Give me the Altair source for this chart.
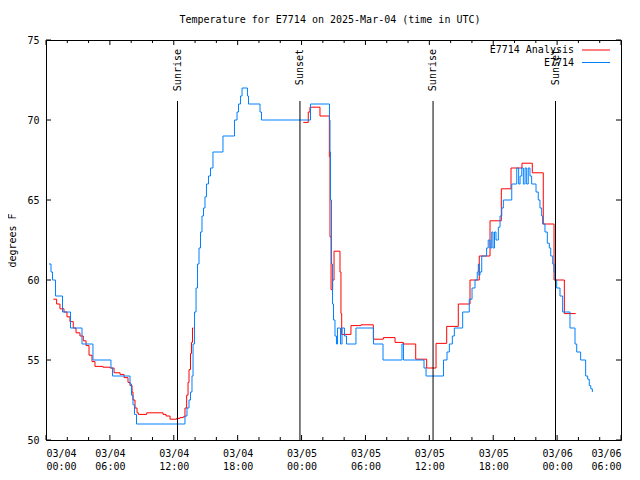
import altair as alt
import pandas as pd

FONT = "DejaVu Sans Mono"

# Observations (E7714), hours after 2025-03-04 00:00 UTC, step values in deg F
obs_hours = [0.28, 0.47, 0.61, 0.89, 1.55, 2.30, 3.38, 4.41, 6.10, 6.25,
             7.89, 8.03, 8.17, 8.31, 8.50, 13.05, 13.24, 13.43, 13.57, 13.71,
             13.81, 13.95, 14.09, 14.23, 14.37, 14.51, 14.65, 14.79, 14.93, 15.07,
             15.26, 15.45, 15.68, 16.62, 17.70, 17.94, 18.08, 18.27, 18.41, 18.92,
             19.02, 20.10, 20.24, 24.84, 26.62, 26.67, 26.72, 26.81, 26.91, 27.00,
             27.14, 27.28, 27.38, 27.52, 27.66, 27.80, 28.03, 28.22, 29.11, 30.76,
             31.65, 33.43, 33.57, 35.50, 35.69, 37.33, 37.66, 37.88, 38.16, 38.35,
             39.13, 39.75, 40.01, 40.29, 40.50, 40.60, 40.66, 40.76, 40.92, 41.13,
             41.38, 41.53, 41.70, 41.86, 41.98, 42.12, 42.26, 42.48, 42.64, 42.80,
             42.95, 43.74, 44.21, 44.39, 44.52, 44.68, 44.83, 44.99, 45.14, 45.29,
             45.45, 45.61, 46.02, 46.23, 46.39, 46.55, 46.64, 46.86, 47.08, 47.27,
             47.40, 47.59, 47.71, 47.80, 47.96, 48.27, 48.52, 49.21, 49.68, 49.84,
             50.21, 50.68, 50.87, 51.02, 51.16, 51.31]
obs_temps = [61, 60.5, 60, 59, 58, 57, 56, 55, 54.5, 54,
             53.5, 52.8, 52.2, 51.6, 51, 51.5, 52, 52.5, 53, 54,
             56, 58, 59.5, 61, 62, 63, 64, 64.5, 65.2, 66,
             66.5, 67, 68, 69, 70, 70.5, 71, 71.5, 72, 71.5,
             71, 70.5, 70, 71, 70, 68, 65, 61, 58.5, 57.5,
             56.5, 56, 57, 57, 56, 57, 56.5, 56, 57, 56,
             55, 56, 55, 54.5, 54, 55, 55.5, 56, 56.5, 57,
             58, 58.8, 59.5, 60, 60.5, 61, 60.3, 60.5, 61.5, 61.5,
             62, 62.5, 62, 63, 62, 63, 62.5, 63.3, 64, 64.5,
             65, 66, 67, 66, 66.5, 67, 66, 67, 66, 67,
             66.5, 66, 65.5, 65, 64.5, 64, 63.5, 63, 62.3, 62,
             61.5, 61, 60.5, 60, 59.5, 59, 58, 57, 56, 55.5,
             55, 54, 53.8, 53.4, 53.2, 53]

# Analysis (E7714 Analysis), two segments
ana1_hours = [0.69, 1.00, 1.31, 1.69, 1.97, 2.25, 2.56, 2.82, 3.19, 3.50,
              3.76, 4.04, 4.32, 4.60, 5.35, 6.01, 6.39, 6.95, 7.33, 7.70,
              7.89, 8.08, 8.17, 8.36, 8.55, 8.67, 9.46, 10.99, 11.27, 11.65,
              12.27, 12.58, 12.89, 13.05, 13.21, 13.34, 13.43, 13.57, 13.66, 13.76,
              13.85]
ana1_temps = [58.8, 58.5, 58.2, 58.0, 57.7, 57.4, 57.0, 56.7, 56.5, 56.2,
              55.9, 55.3, 54.9, 54.6, 54.55, 54.5, 54.2, 54.1, 53.9, 53.6,
              53.4, 53.0, 52.5, 52.0, 51.7, 51.6, 51.7, 51.6, 51.5, 51.3,
              51.35, 51.4, 51.45, 52.0, 52.8, 53.6, 54.4, 55.4, 56.1, 57.0,
              57.0]
ana2_hours = [24.16, 24.63, 24.79, 25.73, 26.61, 26.67, 26.77, 26.92, 27.05, 27.61,
              27.70, 27.77, 28.64, 29.58, 30.74, 31.68, 32.78, 33.56, 34.72, 35.75,
              36.63, 37.63, 38.72, 39.82, 40.69, 41.70, 42.76, 43.67, 44.70, 45.67,
              46.70, 47.71, 48.68, 49.75]
ana2_temps = [69.85, 70.5, 70.8, 70.25, 67.7, 62.7, 59.4, 60.0, 61.8, 60.5,
              57.9, 56.6, 57.15, 57.2, 56.3, 56.4, 56.1, 56.0, 55.05, 54.5,
              56.04, 57.1, 58.5, 60.0, 61.5, 63.7, 65.7, 67.0, 67.3, 66.7,
              63.5, 60.0, 57.9, 57.9]

sun_hours = [12.35, 23.85, 36.35, 47.85]
sun_labels = ["Sunrise", "Sunset", "Sunrise", "Sunset"]

x_major = list(range(0, 55, 6))
x_minor = [h for h in range(0, 55, 2) if h % 6]
y_major = [50, 55, 60, 65, 70, 75]

series_names = ["E7714 Analysis", "E7714"]
series_colors = ["#ff0000", "#0080ff"]
title_text = "Temperature for E7714 on 2025-Mar-04 (time in UTC)"

W, H = 575, 400

obs = pd.DataFrame({"hour": obs_hours, "temp": obs_temps})
ana = pd.concat([
    pd.DataFrame({"hour": ana1_hours, "temp": ana1_temps, "seg": "a"}),
    pd.DataFrame({"hour": ana2_hours, "temp": ana2_temps, "seg": "b"}),
])
sun = pd.DataFrame({"hour": sun_hours, "label": sun_labels})
xmaj = pd.DataFrame({"hour": x_major})
xmin = pd.DataFrame({"hour": x_minor})
ymaj = pd.DataFrame({"temp": y_major})

xs = alt.Scale(domain=[0, 54], nice=False, zero=False)
ys = alt.Scale(domain=[50, 75], nice=False, zero=False)
xaxis = alt.Axis(
    values=x_major, title=None, labelPadding=8, labelLineHeight=13,
    labelExpr="['03/0' + (4 + floor(datum.value / 24)), ((datum.value % 24) < 10 ? '0' : '') + (datum.value % 24) + ':00']",
)
yaxis = alt.Axis(values=y_major, title="degrees F", labelPadding=7, titlePadding=9)


def X(field="hour"):
    return alt.X(f"{field}:Q", scale=xs, axis=xaxis)


def Y(field="temp"):
    return alt.Y(f"{field}:Q", scale=ys, axis=yaxis)


red = alt.Chart(ana).mark_line(interpolate="step-after", strokeWidth=1, color=series_colors[0]).encode(
    x=X(), y=Y(), detail="seg:N")
blue = alt.Chart(obs).mark_line(interpolate="step-after", strokeWidth=1, color=series_colors[1]).encode(
    x=X(), y=Y())

sun_rule = alt.Chart(sun).mark_rule(color="black", strokeWidth=1).encode(
    x=X(), y=alt.value(61), y2=alt.value(H))
sun_text = alt.Chart(sun).mark_text(angle=270, align="right", baseline="middle",
                                    font=FONT, fontSize=10, color="black").encode(
    x=X(), y=alt.value(9), text="label:N")

tick_layers = []
for df, ln in [(xmaj, 5), (xmin, 3)]:
    tick_layers.append(alt.Chart(df).mark_rule(color="black").encode(
        x=X(), y=alt.value(H), y2=alt.value(H - ln)))
    tick_layers.append(alt.Chart(df).mark_rule(color="black").encode(
        x=X(), y=alt.value(0), y2=alt.value(ln)))
tick_layers.append(alt.Chart(ymaj).mark_rule(color="black").encode(
    y=Y(), x=alt.value(0), x2=alt.value(5)))
tick_layers.append(alt.Chart(ymaj).mark_rule(color="black").encode(
    y=Y(), x=alt.value(W), x2=alt.value(W - 5)))

legend_layers = []
for i, (name, col) in enumerate(zip(series_names, series_colors)):
    ly = 10 + 12.5 * i
    ldf = pd.DataFrame({"name": [name]})
    legend_layers.append(alt.Chart(ldf).mark_text(align="right", baseline="middle", font=FONT,
                                                  fontSize=10, color="black").encode(
        x=alt.value(528), y=alt.value(ly), text="name:N"))
    legend_layers.append(alt.Chart(ldf).mark_rule(color=col, strokeWidth=1).encode(
        x=alt.value(536), x2=alt.value(564), y=alt.value(ly)))

title_layer = alt.Chart(pd.DataFrame({"t": [title_text]})).mark_text(
    align="center", baseline="middle", font=FONT, fontSize=10, color="black").encode(
    x=alt.value(284), y=alt.value(-20), text="t:N")

chart = alt.layer(red, blue, sun_rule, sun_text, *tick_layers, *legend_layers, title_layer).properties(
    width=W, height=H,
    autosize=alt.AutoSizeParams(type="none"),
    padding={"left": 38, "top": 32, "right": 11, "bottom": 32},
).configure_view(stroke="black", strokeWidth=1).configure_axis(
    grid=False, domain=False, ticks=False, tickSize=0,
    labelFont=FONT, labelFontSize=10, labelColor="black",
    titleFont=FONT, titleFontSize=10, titleColor="black", titleFontWeight="normal",
)

chart.save("out.html", embed_options={"renderer": "svg", "actions": False})
